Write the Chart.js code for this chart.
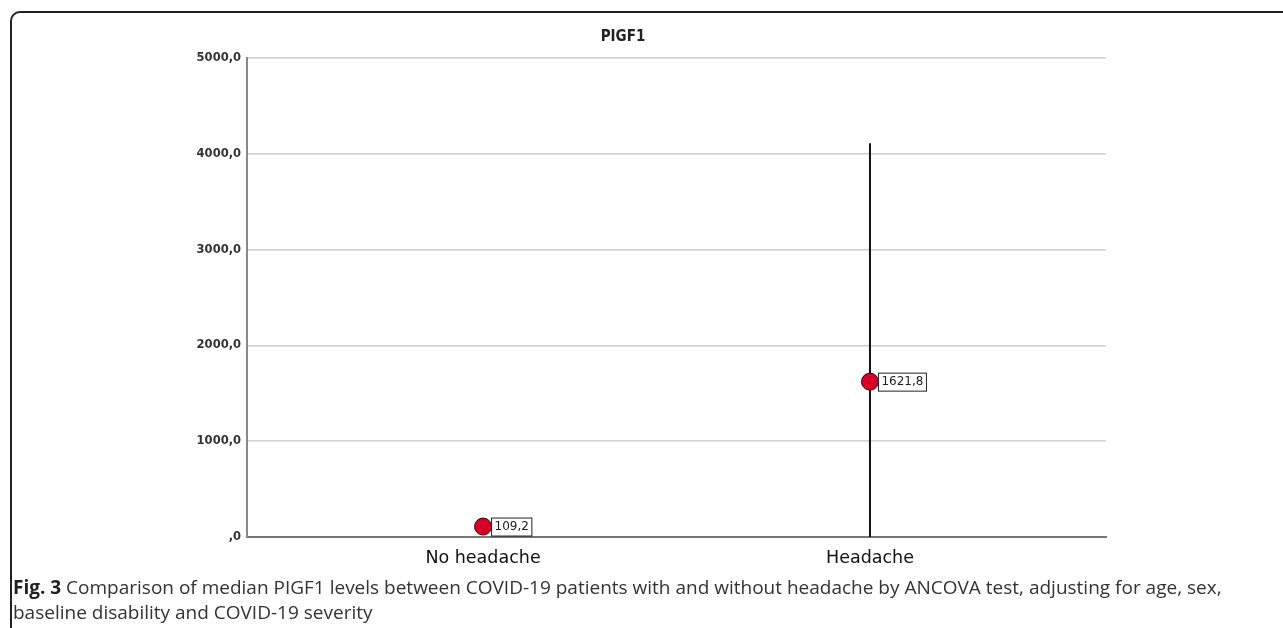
<!DOCTYPE html>
<html>
<head>
<meta charset="utf-8">
<script src="https://cdn.jsdelivr.net/npm/chart.js@4/dist/chart.umd.min.js"></script>
<style>
  body { margin: 0; background: #fff; width: 1283px; height: 628px; overflow: hidden; position: relative; }
  #frame { position: absolute; left: 10px; top: 11px; width: 1300px; height: 700px; border: 2px solid #222; border-radius: 10px; box-sizing: border-box; }
  #wrap { position: absolute; left: 0; top: 0; width: 1283px; height: 580px; }
  #caption { position: absolute; left: 13px; top: 575px; width: 1260px; font-family: "Open Sans", sans-serif; font-size: 19px; line-height: 25px; color: #333; }
  #caption b { color: #222; }
</style>
</head>
<body>
<div id="frame"></div>
<div id="wrap"><canvas id="chart"></canvas></div>
<div id="caption"><b>Fig. 3</b> Comparison of median PIGF1 levels between COVID-19 patients with and without headache by ANCOVA test, adjusting for age, sex, baseline disability and COVID-19 severity</div>
<script>
const titulo = "PIGF1";
const categorias = ["No headache", "Headache"];
const medianas = [109.2, 1621.8];
const erroInferior = [70, 0];
const erroSuperior = [150, 4110];
const rotulos = ["109,2", "1621,8"];
const ticksY = [0, 1000, 2000, 3000, 4000, 5000];

function formatarTick(v) {
  if (v === 0) return ",0";
  return v.toFixed(1).replace(".", ",");
}

// titulo, barras de erro e caixinhas de rótulo
const extras = {
  id: "extras",
  beforeDatasetsDraw(chart) {
    const ctx = chart.ctx;
    const x = chart.scales.x, y = chart.scales.y;
    ctx.save();
    ctx.font = "bold 15px 'DejaVu Sans Condensed'";
    ctx.fillStyle = "#222";
    ctx.textAlign = "center";
    ctx.textBaseline = "middle";
    ctx.fillText(titulo, chart.chartArea.left + 376, 37);
    ctx.strokeStyle = "#111";
    ctx.lineWidth = 2;
    medianas.forEach((_, i) => {
      const px = x.getPixelForValue(i);
      ctx.beginPath();
      ctx.moveTo(px, y.getPixelForValue(erroInferior[i]));
      ctx.lineTo(px, y.getPixelForValue(erroSuperior[i]));
      ctx.stroke();
    });
    ctx.restore();
  },
  afterDatasetsDraw(chart) {
    const ctx = chart.ctx;
    const x = chart.scales.x, y = chart.scales.y;
    ctx.save();
    ctx.font = "12px 'DejaVu Sans'";
    ctx.textBaseline = "middle";
    medianas.forEach((m, i) => {
      const px = x.getPixelForValue(i) + 8;
      const py = y.getPixelForValue(m);
      const w = ctx.measureText(rotulos[i]).width + 6;
      ctx.fillStyle = "#fff";
      ctx.fillRect(px, py - 9, w, 18);
      ctx.strokeStyle = "#222";
      ctx.lineWidth = 1;
      ctx.strokeRect(px + 0.5, py - 9 + 0.5, w, 18);
      ctx.fillStyle = "#222";
      ctx.fillText(rotulos[i], px + 3.5, py + 0.5);
    });
    ctx.restore();
  }
};

new Chart(document.getElementById("chart"), {
  type: "scatter",
  data: {
    datasets: [{
      data: medianas.map((m, i) => ({ x: i, y: m })),
      pointRadius: 8.5,
      pointHoverRadius: 8.5,
      backgroundColor: "#d4002a",
      borderColor: "#4a0010",
      borderWidth: 1
    }]
  },
  options: {
    responsive: true,
    maintainAspectRatio: false,
    animation: false,
    events: [],
    layout: { padding: { left: 0, right: 177, top: 58, bottom: 0 } },
    plugins: {
      legend: { display: false },
      tooltip: { enabled: false },
      title: { display: false }
    },
    scales: {
      x: {
        type: "linear",
        min: -0.61,
        max: 1.61,
        afterBuildTicks: s => { s.ticks = categorias.map((_, i) => ({ value: i })); },
        afterFit: s => { s.height = 43; },
        grid: { display: false, drawTicks: false },
        border: { display: true, color: "#777", width: 2 },
        ticks: {
          padding: 11,
          color: "#111",
          font: { family: "'DejaVu Sans'", size: 17.5 },
          callback: v => categorias[v]
        }
      },
      y: {
        min: 0,
        max: 5000,
        afterBuildTicks: s => { s.ticks = ticksY.map(v => ({ value: v })); },
        afterFit: s => { s.width = 247; },
        grid: { color: "#d0d0d0", lineWidth: 1.5, drawTicks: false },
        border: { display: true, color: "#888", width: 2 },
        ticks: {
          padding: 6,
          color: "#333",
          font: { family: "'DejaVu Sans'", size: 11.5, weight: "bold" },
          callback: v => formatarTick(v)
        }
      }
    }
  },
  plugins: [extras]
});
</script>
</body>
</html>
